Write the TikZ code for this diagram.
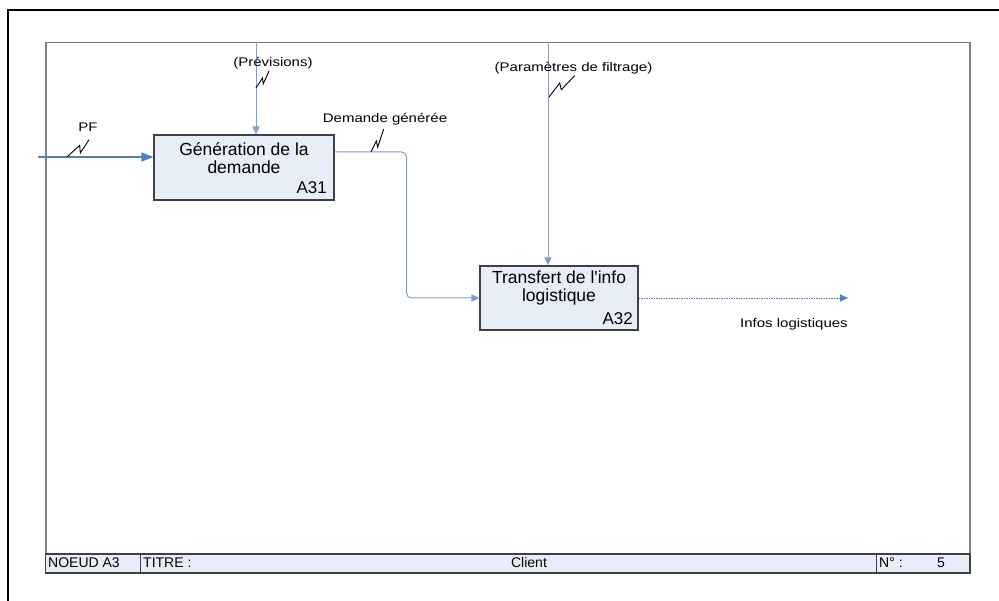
\documentclass[tikz,border=0pt]{standalone}
\usepackage{fontspec}
\setmainfont{Liberation Sans}[Ligatures=TeXOff]
\newfontfamily\lblfont{Liberation Sans}[FakeStretch=1.2,Ligatures=TeXOff]
\usetikzlibrary{arrows.meta,calc}
\definecolor{boxfill}{HTML}{E8EEF8}
\definecolor{arrowblue}{HTML}{4F7FC0}
\definecolor{lightblue}{HTML}{7F9FD4}
\definecolor{framegray}{HTML}{808080}
\definecolor{boxborder}{HTML}{404040}
\begin{document}
\begin{tikzpicture}[x=1pt,y=-1pt,
  actbox/.style={draw=boxborder,line width=1.2pt,fill=boxfill,inner sep=0pt},
  boxtxt/.style={inner sep=0pt,align=center,anchor=north,font=\fontsize{17.5}{17.8}\selectfont},
  boxid/.style={inner sep=0pt,anchor=base east,font=\fontsize{17}{17}\selectfont},
  lbl/.style={inner sep=0pt,anchor=base,font=\lblfont\fontsize{12.5}{14}\selectfont},
  foot/.style={inner sep=0pt,anchor=base west,font=\fontsize{14}{14}\selectfont},
  flowthick/.style={draw=arrowblue,line width=1.3pt,-{Triangle[length=12pt,width=9pt]}},
  flow/.style={draw=lightblue,line width=1pt,-{Triangle[length=8pt,width=7pt]}},
  flowdot/.style={draw=arrowblue,line width=0.9pt,dash pattern=on 1.5pt off 1pt,-{Triangle[length=8pt,width=7pt]}},
  squig/.style={draw=black,line width=0.9pt}]
\useasboundingbox (0,0) rectangle (999,601);
% outer frame
\draw[black,line width=2pt] (8.3,605) -- (8.3,10) -- (1005,10);
% inner frame
\draw[framegray,line width=1.6pt] (45.8,573) -- (45.8,42.5) -- (970,42.5) -- (970,573);
% footer
\draw[boxborder,fill=boxfill,line width=1.2pt] (45.8,554) rectangle (970,573);
\draw[boxborder,line width=1pt] (140,554) -- (140,573);
\draw[boxborder,line width=1pt] (876.5,554) -- (876.5,573);
\node[foot] (noeud) at (48,567.5) {NOEUD A3};
\node[foot] (titre) at (143,567.5) {TITRE :};
\node[foot,anchor=base] (client) at (529,567.5) {Client};
\node[foot] (num) at (879,567.5) {N° :};
\node[foot] (numval) at (937,567.5) {5};
% activity boxes
\node[actbox,minimum width=180pt,minimum height=65pt] (a31) at (244,167.5) {};
\node[boxtxt] (a31t) at (244,142.5) {Génération de la\\demande};
\node[boxid] (a31id) at (327,194) {A31};
\node[actbox,minimum width=158pt,minimum height=64pt] (a32) at (559,298) {};
\node[boxtxt] (a32t) at (559,270.5) {Transfert de l'info\\logistique};
\node[boxid] (a32id) at (633,325) {A32};
% coordinates
\coordinate (pfin) at (38,157);
\coordinate (prevtop) at (256,42.5);
\coordinate (paramtop) at (548,42.5);
\coordinate (bend) at (406.5,298);
\coordinate (outend) at (848,298);
% connectors
\draw[flowthick] (pfin) -- (pfin -| a31.west);
\draw[flow] (prevtop) -- (prevtop |- a31.north);
\draw[flow] (paramtop) -- (paramtop |- a32.north);
\draw[flow,rounded corners=5pt] ([yshift=15.5pt]a31.east) -| (bend) -- (a32.west);
\draw[flowdot] (a32.east) -- (outend);
% labels
\node[lbl] (pf) at (88,132) {PF};
\node[lbl] (prev) at (273,67) {(Prévisions)};
\node[lbl] (dem) at (385,123) {Demande générée};
\node[lbl] (param) at (573.5,71.5) {(Paramètres de filtrage)};
\node[lbl,anchor=base west] (infos) at (740,328) {Infos logistiques};
% squiggles
\draw[squig] (67,157) -- ++(12.7,-11.7) -- ++(0.6,7.7) -- ++(8.7,-13.3);
\draw[squig] (256,88) -- ++(6.5,-10) -- ++(0.6,6) -- ++(6,-13);
\draw[squig] (371,152) -- ++(5.3,-11) -- ++(1.4,6) -- ++(6,-18);
\draw[squig] (549,97) -- ++(10.7,-14) -- ++(1.6,6.7) -- ++(13.4,-14);
\end{tikzpicture}
\end{document}
